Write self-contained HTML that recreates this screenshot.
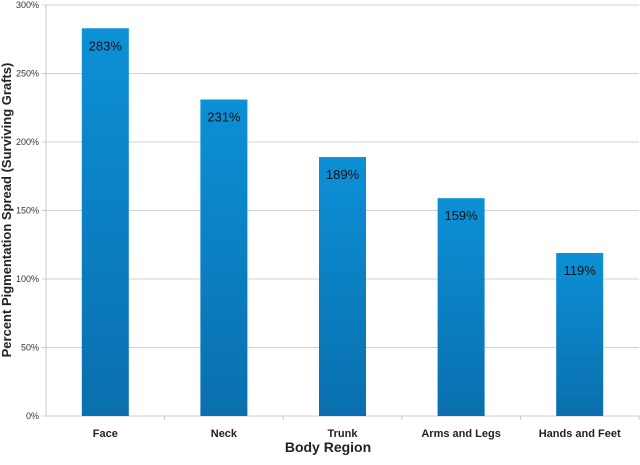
<!DOCTYPE html>
<html><head><meta charset="utf-8"><style>
body{margin:0;background:#fff;font-family:"Liberation Sans",sans-serif}
</style></head><body>
<svg id="chart" width="640" height="460">
<defs><linearGradient id="g" x1="0" y1="0" x2="0" y2="1"><stop offset="0" stop-color="#0c90d6"/><stop offset="1" stop-color="#0a6fae"/></linearGradient></defs>
<g id="grid"></g><g id="bars"></g><g id="axes"></g>
<text x="328" y="452" text-anchor="middle" font-size="14" font-weight="bold" fill="#222">Body Region</text>
<text transform="translate(11,210) rotate(-90)" text-anchor="middle" font-size="13" font-weight="bold" fill="#222">Percent Pigmentation Spread (Surviving Grafts)</text>
</svg>
<script>
const categories=["Face","Neck","Trunk","Arms and Legs","Hands and Feet"];
const values=[283,231,189,159,119];
const labels=["283%","231%","189%","159%","119%"];
const ticks=[0,50,100,150,200,250,300];
const NS="http://www.w3.org/2000/svg";
const x0=46,x1=639,yTop=5,yBot=416,yMax=300;
const bw=(x1-x0)/categories.length;
const y=v=>yBot-(v/yMax)*(yBot-yTop);
function mk(t,a,p){const e=document.createElementNS(NS,t);for(const k in a)e.setAttribute(k,a[k]);p.appendChild(e);return e;}
const grid=document.getElementById('grid'),bars=document.getElementById('bars'),axes=document.getElementById('axes');
ticks.forEach(t=>{
 const l=mk('line',{x1:x0-4,x2:x1,y1:y(t),y2:y(t),stroke:'#d0d0d0','stroke-width':1},grid);
 
 
 const tx=mk('text',{x:x0-7,y:y(t)+3,'text-anchor':'end','font-size':9,fill:'#333'},axes);
 tx.textContent=t+'%';
 
 
});
mk('line',{x1:x0,x2:x0,y1:yTop,y2:yBot,stroke:'#c8c8c8'},axes);
categories.forEach((c,i)=>{
 const cx=x0+bw*(i+0.5),w=47;
 const r=mk('rect',{x:cx-w/2,y:y(values[i]),width:w,height:yBot-y(values[i]),fill:'url(#g)'},bars);
 
 
 const v=mk('text',{x:cx,y:y(values[i])+22,'text-anchor':'middle','font-size':13,fill:'#111'},bars);
 v.textContent=labels[i];
 
 
 const tk=mk('line',{x1:x0+bw*(i+1),x2:x0+bw*(i+1),y1:yBot,y2:yBot+4,stroke:'#c8c8c8'},axes);
 const xl=mk('text',{x:cx,y:437,'text-anchor':'middle','font-size':11,'font-weight':'bold',fill:'#222'},axes);
 xl.textContent=c;
 
 
});
</script>
</body></html>
